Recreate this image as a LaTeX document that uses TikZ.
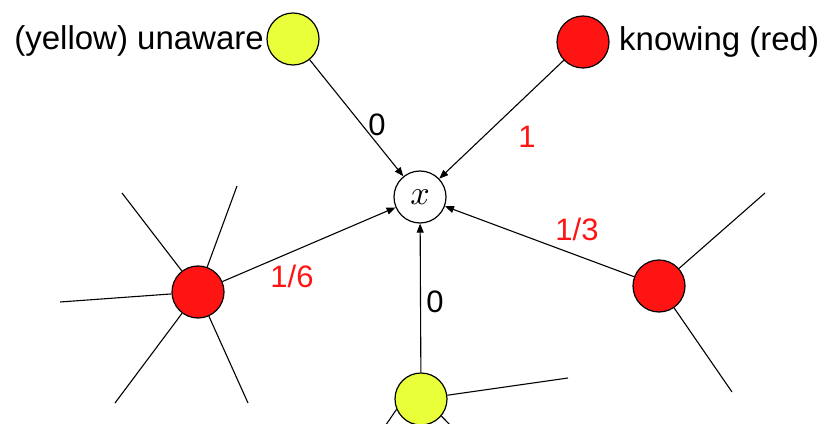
\documentclass[tikz,border=0pt]{standalone}
\usepackage{fontspec}
\setmainfont{Liberation Sans}
\usetikzlibrary{arrows.meta}
\definecolor{nodeyellow}{RGB}{233,255,58}
\definecolor{nodered}{RGB}{255,20,20}
\tikzset{
  vert/.style={circle, draw=black, line width=1.2pt, minimum size=52pt, inner sep=0pt},
  yel/.style={vert, fill=nodeyellow},
  rednode/.style={vert, fill=nodered},
  center/.style={vert, fill=white},
  arr/.style={line width=1.1pt, -{Triangle[length=9pt,width=7pt]}},
  spoke/.style={line width=1.1pt},
  bigtext/.style={inner sep=0pt, font=\fontsize{33}{40}\selectfont},
  wlab/.style={inner sep=0pt, font=\fontsize{31}{36}\selectfont},
}
\begin{document}
\begin{tikzpicture}[x=1pt,y=1pt]
\useasboundingbox (0,0) rectangle (834,423);
\clip (0,0) rectangle (834,423);

\node[yel] (Y1) at (293,384) {};
\node[rednode] (R1) at (583,381) {};
\node[center] (X) at (420,226) {\scalebox{3.4}{$x$}};
\node[rednode] (R2) at (198,131) {};
\node[rednode] (R3) at (659,137) {};
\node[yel] (Y2) at (421,24) {};

\node[bigtext, anchor=base east] (t1) at (264,373) {(yellow) unaware};
\node[bigtext, anchor=base west] (t2) at (619,372) {knowing (red)};

% spoke ends
\coordinate (a1) at (122,230);
\coordinate (a2) at (237,237);
\coordinate (a3) at (60,121);
\coordinate (a4) at (115,20);
\coordinate (a5) at (248,20);
\coordinate (b1) at (765,230);
\coordinate (b2) at (732,31);
\coordinate (c1) at (568,45);
\coordinate (c2) at (379,-12);
\coordinate (c3) at (462,-14);

\draw[spoke] (R2) -- (a1);
\draw[spoke] (R2) -- (a2);
\draw[spoke] (R2) -- (a3);
\draw[spoke] (R2) -- (a4);
\draw[spoke] (R2) -- (a5);
\draw[spoke] (R3) -- (b1);
\draw[spoke] (R3) -- (b2);
\draw[spoke] (Y2) -- (c1);
\draw[spoke] (Y2.203) -- (c2);
\draw[spoke] (Y2.-40) -- (c3);

\draw[arr] (Y1) -- (X);
\draw[arr] (R1) -- (X);
\draw[arr] (R2) -- (X);
\draw[arr] (R3) -- (X);
\draw[arr] (Y2) -- (X);

\node[wlab] (l1) at (377,298) {0};
\node[wlab, text=nodered] (l2) at (527,286) {1};
\node[wlab, text=nodered] (l3) at (292,147) {1/6};
\node[wlab, text=nodered] (l4) at (577,194) {1/3};
\node[wlab] (l5) at (435,121) {0};
\end{tikzpicture}
\end{document}
